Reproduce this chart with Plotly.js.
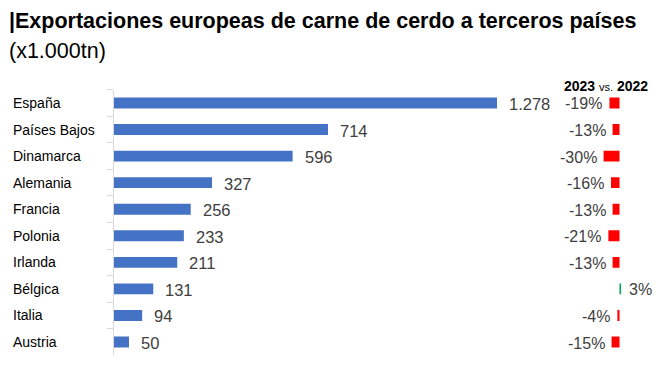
<!DOCTYPE html>
<html><head><meta charset="utf-8">
<script src="https://cdn.plot.ly/plotly-3.0.1.min.js"></script>
<style>html,body{margin:0;padding:0;background:#fff;}#chart{width:665px;height:369px;}</style>
</head><body><div id="chart"></div>
<script>
const countries = ['España','Países Bajos','Dinamarca','Alemania','Francia','Polonia','Irlanda','Bélgica','Italia','Austria'];
const values = [1278,714,596,327,256,233,211,131,94,50];
const changes = [-19,-13,-30,-16,-13,-21,-13,3,-4,-15];

const W = 665, H = 369;
const px = v => v / W, py = v => 1 - v / H;

const traces = [
  {type:'bar', orientation:'h', y:countries, x:values, xaxis:'x', yaxis:'y',
   marker:{color:'#4472C4'}, hoverinfo:'none', showlegend:false},
  {type:'bar', orientation:'h', y:countries, x:changes, xaxis:'x2', yaxis:'y',
   marker:{color:changes.map(c => c < 0 ? '#FF0000' : '#00A650')}, hoverinfo:'none', showlegend:false}
];

const annotations = [];
countries.forEach((c, i) => {
  annotations.push({xref:'paper', yref:'y', x:px(11), y:c, xanchor:'left', yanchor:'middle', showarrow:false,
    text:c, font:{family:'Arial, Liberation Sans', size:14, color:'#000'}});
  annotations.push({xref:'x', yref:'y', x:values[i], y:c, xanchor:'left', yanchor:'middle', showarrow:false,
    xshift:10, yshift:-1, text:values[i].toLocaleString('de-DE'), font:{family:'Liberation Sans, Arial', size:16.5, color:'#404040'}});
  const neg = changes[i] < 0;
  annotations.push({xref:'x2', yref:'y', x:changes[i], y:c, xanchor:neg ? 'right' : 'left', yanchor:'middle',
    showarrow:false, xshift:neg ? -5 : 6, yshift:-1, text:changes[i] + '%', font:{family:'Liberation Sans, Arial', size:16, color:'#404040'}});
});
annotations.push({xref:'paper', yref:'paper', x:px(7), y:py(21), xanchor:'left', yanchor:'middle', showarrow:false,
  text:'<b>|Exportaciones europeas de carne de cerdo a terceros países</b>', font:{family:'Arial, Liberation Sans', size:21.5, color:'#000'}});
annotations.push({xref:'paper', yref:'paper', x:px(7), y:py(51), xanchor:'left', yanchor:'middle', showarrow:false,
  text:'(x1.000tn)', font:{family:'Arial, Liberation Sans', size:21.5, color:'#000'}});
annotations.push({xref:'paper', yref:'paper', x:px(650), y:py(86), xanchor:'right', yanchor:'middle', showarrow:false,
  text:'<b>2023</b> <span style="font-size:11px">vs.</span> <b>2022</b>', font:{family:'Liberation Sans, Arial', size:14, color:'#000'}});

const zeroX = 619.5, pxPerPct = 0.53, d2a = 560, d2b = 645;

const layout = {
  width: W, height: H, margin:{l:0,r:0,t:0,b:0},
  paper_bgcolor:'#fff', plot_bgcolor:'rgba(0,0,0,0)',
  bargap: 0.59, showlegend:false,
  xaxis:{domain:[px(114), px(540)], range:[0, (540-114)/0.2997], showgrid:false, zeroline:false, showticklabels:false, showline:false, fixedrange:true, anchor:'y'},
  xaxis2:{domain:[px(d2a), px(d2b)], range:[-(zeroX-d2a)/pxPerPct, (d2b-zeroX)/pxPerPct], showgrid:false, zeroline:false, showticklabels:false, showline:false, anchor:'y'},
  yaxis:{domain:[(H-355.3)/H, (H-89.7)/H], autorange:'reversed', type:'category', showgrid:false, zeroline:false,
    showticklabels:false, showline:true, linecolor:'#d9d9d9', linewidth:1, ticks:'outside', tickson:'boundaries', ticklen:6, tickcolor:'#d9d9d9', anchor:'x'},
  annotations: annotations
};

Plotly.newPlot('chart', traces, layout, {displayModeBar:false, staticPlot:true});
</script></body></html>
